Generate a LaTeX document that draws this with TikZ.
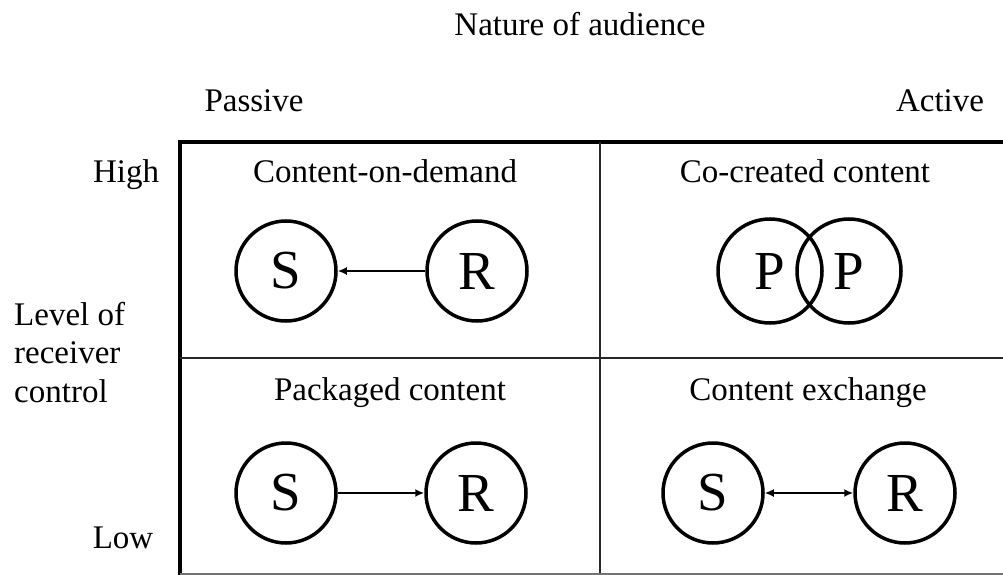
\documentclass[tikz,border=0pt]{standalone}
\usepackage{fontspec}
\setmainfont{Liberation Serif}
\usetikzlibrary{arrows.meta}
\begin{document}
\begin{tikzpicture}[x=1pt,y=-1pt,
  lbl/.style={font=\fontsize{33}{38.5}\selectfont, inner sep=0pt, anchor=base},
  party/.style={circle, draw, line width=3.5pt, minimum size=100pt, inner sep=0pt,
                font=\fontsize{55}{60}\selectfont},
  flow/.style={line width=2.2pt, -{Latex[length=9pt,width=8pt]}},
  flowboth/.style={line width=2.2pt, {Latex[length=9pt,width=8pt]}-{Latex[length=9pt,width=8pt]}},
  grid/.style={line width=4pt},
  divider/.style={line width=2.5pt, draw=black!85}]
\useasboundingbox (0,0) rectangle (1003,575);

% matrix frame
\draw[grid] (180,575) -- (180,142) -- (1003,142);
\draw[divider] (180,358) -- (1003,358);
\draw[divider] (600,142) -- (600,575);
\draw[line width=1.5pt, draw=black!55] (180,574) -- (1003,574);

% axis labels
\node[lbl] (nature) at (580,36) {Nature of audience};
\node[lbl] (passive) at (254,111) {Passive};
\node[lbl] (active) at (940,111) {Active};
\node[lbl] (high) at (126,182) {High};
\node[lbl] (low) at (123,548) {Low};
\node[lbl, anchor=base west, align=left] (level) at (14,402) {Level of\\receiver\\control};

% cell titles
\node[lbl] (t1) at (385,182) {Content-on-demand};
\node[lbl] (t2) at (805,182) {Co-created content};
\node[lbl] (t3) at (390,400) {Packaged content};
\node[lbl] (t4) at (808,400) {Content exchange};

% content-on-demand
\node[party] (s1) at (286,271) {S};
\node[party] (r1) at (477,271) {R};
\draw[flow] (r1) -- (s1);

% co-created content
\node[party, minimum size=104pt] (p1) at (770,271) {P};
\node[party, minimum size=104pt] (p2) at (849,271) {P};

% packaged content
\node[party] (s2) at (286,493) {S};
\node[party] (r2) at (476,493) {R};
\draw[flow] (s2) -- (r2);

% content exchange
\node[party] (s3) at (713,493) {S};
\node[party] (r3) at (905,493) {R};
\draw[flowboth] (s3) -- (r3);
\end{tikzpicture}
\end{document}
